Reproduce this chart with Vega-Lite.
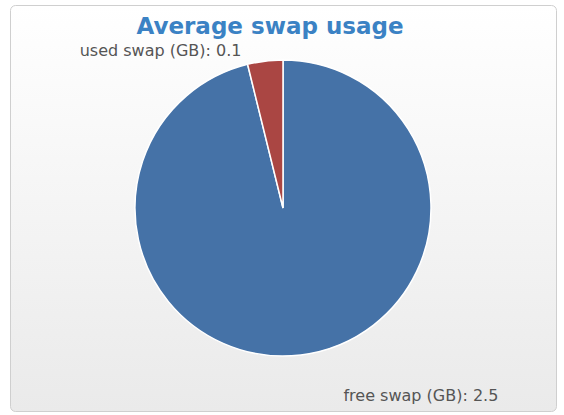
{
  "$schema": "https://vega.github.io/schema/vega-lite/v6.json",
  "width": 546,
  "height": 406,
  "padding": {"left": 10, "top": 5, "right": 8, "bottom": 4},
  "background": "#ffffff",
  "view": {
    "stroke": "#cfcfcf",
    "strokeWidth": 1,
    "cornerRadius": 5,
    "fill": {"gradient": "linear", "x1": 0, "y1": 0, "x2": 0, "y2": 1,
      "stops": [{"offset": 0, "color": "#ffffff"}, {"offset": 1, "color": "#eaeaea"}]}
  },
  "title": {
    "text": "Average swap usage",
    "font": "DejaVu Sans",
    "fontSize": 23,
    "fontWeight": "bold",
    "color": "#3b82c4",
    "anchor": "middle",
    "offset": -34,
    "dx": -13
  },
  "data": {
    "values": [
      {"category": "free swap (GB)", "value": 2.5, "label": "free swap (GB): 2.5"},
      {"category": "used swap (GB)", "value": 0.1, "label": "used swap (GB): 0.1"}
    ]
  },
  "encoding": {
    "theta": {"field": "value", "type": "quantitative", "stack": true},
    "color": {
      "field": "category", "type": "nominal",
      "scale": {"domain": ["free swap (GB)", "used swap (GB)"], "range": ["#4572A7", "#AA4643"]},
      "legend": null
    }
  },
  "layer": [
    {"mark": {"type": "arc", "outerRadius": 148, "stroke": "#ffffff", "strokeWidth": 1.5}},
    {
      "transform": [{"filter": "datum.category == 'used swap (GB)'"}],
      "mark": {"type": "text", "radius": 170, "align": "right", "baseline": "middle", "dx": -62, "dy": 12, "font": "DejaVu Sans", "fontSize": 16},
      "encoding": {"text": {"field": "label"}, "color": {"value": "#555555"}}
    },
    {
      "transform": [{"filter": "datum.category == 'free swap (GB)'"}],
      "mark": {"type": "text", "radius": 170, "align": "left", "baseline": "middle", "dx": 40, "dy": 19, "font": "DejaVu Sans", "fontSize": 16},
      "encoding": {"text": {"field": "label"}, "color": {"value": "#555555"}}
    }
  ]
}
